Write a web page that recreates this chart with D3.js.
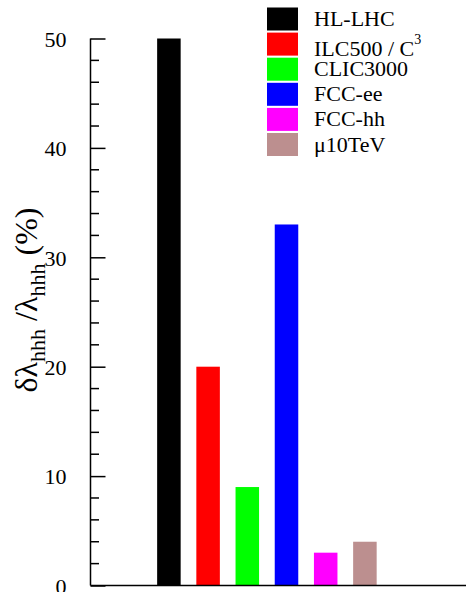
<!DOCTYPE html>
<html><head><meta charset="utf-8">
<script src="https://cdn.jsdelivr.net/npm/d3@7"></script>
</head><body style="margin:0">
<svg id="c" width="466" height="592" font-family="Liberation Serif"></svg>
<script>
const categories = ["HL-LHC", "ILC500 / C3", "CLIC3000", "FCC-ee", "FCC-hh", "μ10TeV"];
const values = [50, 20, 9, 33, 3, 4];
const colors = ["#000000", "#ff0000", "#00ff00", "#0000ff", "#ff00ff", "#bc8f8f"];
const yTicks = [0, 10, 20, 30, 40, 50];

const FONT = "Liberation Serif";
const svg = d3.select("#c");
const x = d3.scaleLinear().domain([0, 10]).range([90.5, 482.5]);
const y = d3.scaleLinear().domain([0, 50]).range([585.5, 38.5]);
const barW = x(0.6) - x(0);

// bars
svg.append("g").selectAll("rect").data(values).join("rect")
  .attr("x", (d, i) => x(i + 2) - barW / 2)
  .attr("width", barW)
  .attr("y", d => y(d))
  .attr("height", d => y(0) - y(d))
  .attr("fill", (d, i) => colors[i]);

// y axis
const yAxis = d3.axisLeft(y).tickValues(yTicks).tickSize(-15).tickPadding(24).tickFormat(d3.format("d"));
const ga = svg.append("g").attr("transform", "translate(90.5,0)").call(yAxis);
ga.attr("font-family", FONT).attr("font-size", 22);
ga.select(".domain").remove();
ga.selectAll("line").attr("stroke", "#000").attr("stroke-width", 1.5);
ga.selectAll("text").attr("font-family", FONT).attr("font-size", 22).attr("fill", "#000").attr("dy", "0.35em");
// minor ticks
const minor = d3.range(0, 50, 2).filter(v => v % 10 !== 0);
svg.append("g").selectAll("line").data(minor).join("line")
  .attr("x1", 90.5).attr("x2", 99).attr("y1", d => y(d)).attr("y2", d => y(d))
  .attr("stroke", "#000").attr("stroke-width", 1.5);
// axis lines
svg.append("line").attr("x1", 90.5).attr("x2", 90.5).attr("y1", y(50)).attr("y2", y(0)).attr("stroke", "#000").attr("stroke-width", 1.5);
svg.append("line").attr("x1", 90.5).attr("x2", 466).attr("y1", y(0)).attr("y2", y(0)).attr("stroke", "#000").attr("stroke-width", 1.5);

// y label
const yl = svg.append("text")
  .attr("transform", "translate(37,300) rotate(-90)")
  .attr("text-anchor", "middle")
  .attr("font-family", FONT).attr("font-size", 32).attr("fill", "#000");
yl.append("tspan").text("δλ");
yl.append("tspan").attr("font-size", 22).attr("dy", 8).text("hhh");
yl.append("tspan").attr("dy", -8).text("\u00a0/λ");
yl.append("tspan").attr("font-size", 22).attr("dy", 8).text("hhh");
yl.append("tspan").attr("dy", -8).text("\u00a0(%)");

// legend
const lg = svg.append("g").attr("font-family", FONT);
categories.forEach((c, i) => {
  const cy = 19 + i * 25.1;
  lg.append("rect").attr("x", 267).attr("y", cy - 11.5).attr("width", 31).attr("height", 23).attr("fill", colors[i]);
  const t = lg.append("text").attr("x", 314).attr("y", cy + 7)
    .attr("font-family", FONT).attr("font-size", 22).attr("fill", "#000");
  if (c === "ILC500 / C3") {
    t.attr("y", cy + 12);
    t.append("tspan").text("ILC500 / C");
    t.append("tspan").attr("font-size", 14).attr("dy", -12).text("3");
  } else {
    t.text(c);
  }
});
</script>
</body></html>
